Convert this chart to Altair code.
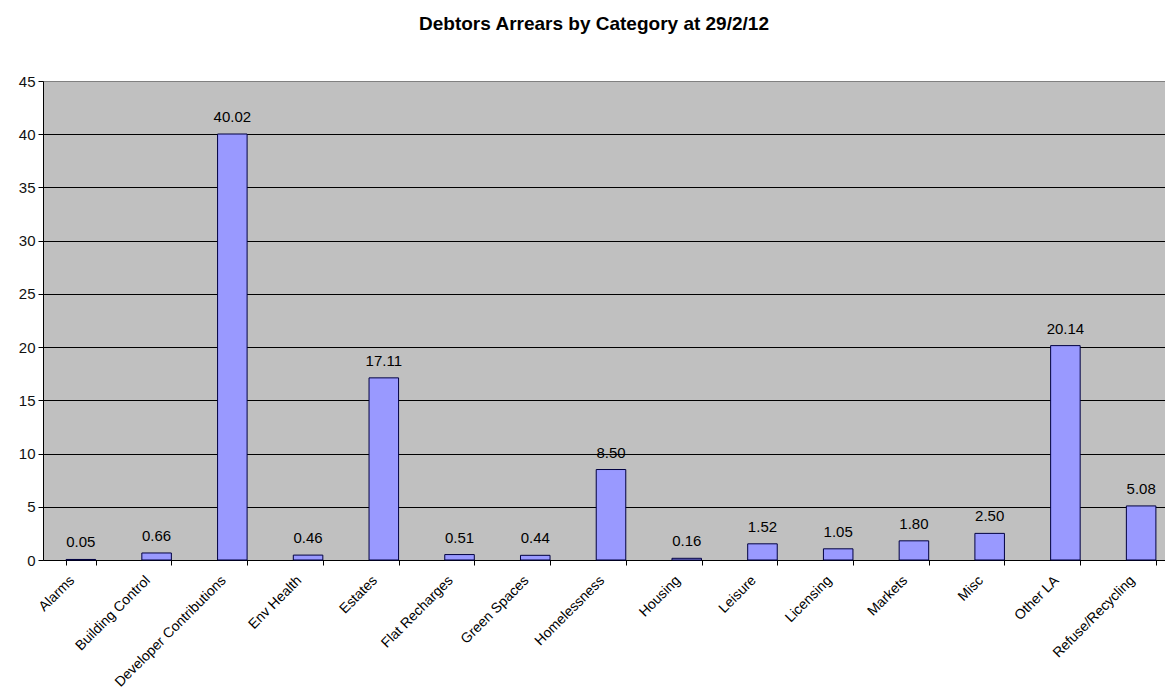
import altair as alt
import pandas as pd

categories = ["Alarms", "Building Control", "Developer Contributions", "Env Health", "Estates",
              "Flat Recharges", "Green Spaces", "Homelessness", "Housing", "Leisure",
              "Licensing", "Markets", "Misc", "Other LA", "Refuse/Recycling"]
values = [0.05, 0.66, 40.02, 0.46, 17.11, 0.51, 0.44, 8.50, 0.16, 1.52, 1.05, 1.80, 2.50, 20.14, 5.08]
labels = ["0.05", "0.66", "40.02", "0.46", "17.11", "0.51", "0.44", "8.50", "0.16", "1.52",
          "1.05", "1.80", "2.50", "20.14", "5.08"]
y_ticks = [0, 5, 10, 15, 20, 25, 30, 35, 40, 45]

df = pd.DataFrame({"Category": categories, "Value": values, "Label": labels})

FONT = "Liberation Sans"

x = alt.X("Category:N", sort=categories, title=None,
          scale=alt.Scale(paddingInner=0.61, paddingOuter=0.305),
          axis=alt.Axis(labelAngle=-45, labelAlign="right", labelBaseline="top",
                        labelFont=FONT, labelFontSize=14, labelColor="#000000",
                        tickBand="extent", tickSize=5, tickColor="#000000",
                        domainColor="#000000", labelPadding=8, labelOffset=-14, grid=False))
y = alt.Y("Value:Q", title=None,
          scale=alt.Scale(domain=[0, 45], nice=False),
          axis=alt.Axis(values=y_ticks, labelFont=FONT, labelFontSize=15, labelColor="#111111",
                        tickSize=5, tickColor="#000000", domainColor="#000000",
                        gridColor=alt.condition("datum.value == 45", alt.value("#808080"), alt.value("#000000")),
                        gridOpacity=1, gridWidth=1, labelPadding=3))

bars = alt.Chart(df).mark_bar(color="#9999FF", stroke="#000040", strokeWidth=1).encode(x=x, y=y)
text = alt.Chart(df).mark_text(dy=-12, baseline="alphabetic", font=FONT, fontSize=15, color="#000000").encode(
    x=alt.X("Category:N", sort=categories), y="Value:Q", text="Label:N")

chart = alt.layer(bars, text).properties(
    width=1136, height=479,
    title=alt.TitleParams("Debtors Arrears by Category at 29/2/12", font=FONT, fontSize=19,
                          fontWeight="bold", anchor="middle",
                          offset=40, dx=-17, color="#000000"),
    autosize=alt.AutoSizeParams(type="none"),
    padding={"left": 43, "top": 81, "right": -14, "bottom": 135},
).configure_view(fill="#C0C0C0", stroke=None)

chart.save("out.html", embed_options={"renderer": "svg", "actions": False})
